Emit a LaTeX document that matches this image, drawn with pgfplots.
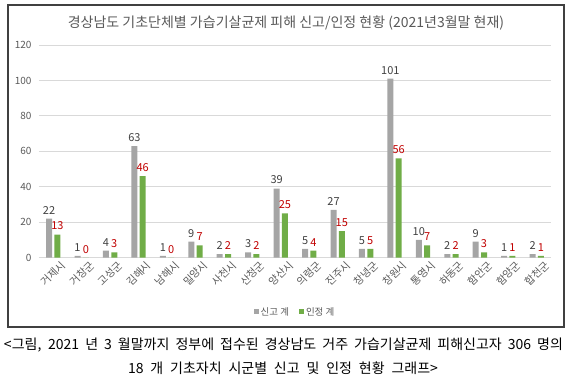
\documentclass[border=0pt]{standalone}
\usepackage{fontspec}
\setmainfont{Noto Sans CJK KR}
\usepackage{pgfplots}
\pgfplotsset{compat=1.18}
\definecolor{bargrey}{HTML}{A5A5A5}
\definecolor{bargreen}{HTML}{70AD47}
\definecolor{labred}{HTML}{C00000}
\definecolor{labdark}{HTML}{404040}
\definecolor{txtgrey}{HTML}{595959}
\definecolor{gridgrey}{HTML}{D9D9D9}
\definecolor{framec}{HTML}{404040}
\begin{document}
\begin{tikzpicture}[x=1pt,y=1pt]
\useasboundingbox (0,0) rectangle (571,378);
\draw[line width=1.2pt, color=framec] (8,51) rectangle (564,373);
\node[font=\fontsize{14}{16}\selectfont, text=txtgrey] at (286,355) {경상남도 기초단체별 가습기살균제 피해 신고/인정 현황 (2021년3월말 현재)};
\begin{axis}[
  at={(39pt,120.3pt)}, anchor=south west,
  scale only axis, width=512pt, height=212.7pt,
  xmin=-0.5, xmax=17.5, ymin=0, ymax=120,
  ytick={0,20,...,120},
  xtick={0,...,17},
  xticklabels={거제시,거창군,고성군,김해시,남해시,밀양시,사천시,산청군,양산시,의령군,진주시,창녕군,창원시,통영시,하동군,함안군,함양군,합천군},
  /pgf/number format/assume math mode=true,
  ymajorgrids, grid style={gridgrey, line width=0.8pt},
  axis line style={draw=none},
  major tick length=0pt,
  yticklabel style={text=txtgrey, font=\fontsize{10}{12}\selectfont, xshift=-4pt},
  xticklabel style={text=txtgrey, font=\fontsize{10.5}{12}\selectfont, rotate=45, anchor=north east, inner sep=0.5pt, xshift=4pt, yshift=-6pt},
  ybar=2.3pt, bar width=6pt,
  legend style={at={(0.5,-0.255)}, anchor=center, draw=none, legend columns=2, font=\fontsize{9.5}{11}\selectfont, text=txtgrey, /tikz/every even column/.append style={column sep=8pt}},
  legend image code/.code={\fill[#1] (0pt,-2.5pt) rectangle (5pt,2.5pt);},
  every node near coord/.append style={font=\fontsize{11}{13}\selectfont, yshift=1pt},
]
\addplot[fill=bargrey, draw=none, nodes near coords, every node near coord/.append style={text=labdark}] coordinates {
(0,22) (1,1) (2,4) (3,63) (4,1) (5,9) (6,2) (7,3) (8,39) (9,5) (10,27) (11,5) (12,101) (13,10) (14,2) (15,9) (16,1) (17,2)};
\addplot[fill=bargreen, draw=none, nodes near coords, every node near coord/.append style={text=labred}] coordinates {
(0,13) (1,0) (2,3) (3,46) (4,0) (5,7) (6,2) (7,2) (8,25) (9,4) (10,15) (11,5) (12,56) (13,7) (14,2) (15,3) (16,1) (17,1)};
\legend{신고 계, 인정 계}
\end{axis}
\node[font=\fontsize{14}{16}\selectfont, text=black, inner sep=0pt, anchor=base] at (283.5,28) {\makebox[559pt][s]{<그림, 2021 년 3 월말까지 정부에 접수된 경상남도 거주 가습기살균제 피해신고자 306 명의}};
\node[font=\fontsize{14}{16}\selectfont, text=black, inner sep=0pt, anchor=base] at (283,5) {\makebox[310pt][s]{18 개 기초자치 시군별 신고 및 인정 현황 그래프>}};
\end{tikzpicture}
\end{document}
